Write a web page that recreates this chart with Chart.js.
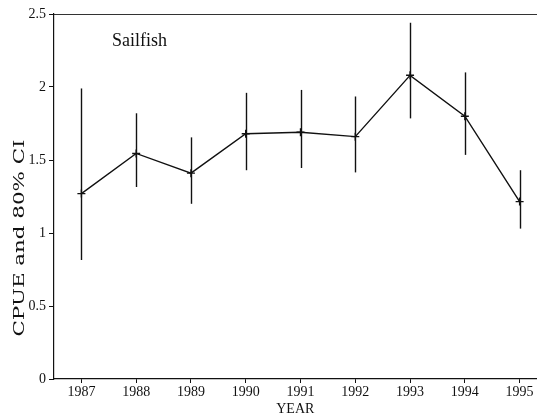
<!DOCTYPE html>
<html>
<head>
<meta charset="utf-8">
<script src="https://cdn.jsdelivr.net/npm/chart.js@4/dist/chart.umd.min.js"></script>
<style>
  html, body { margin: 0; padding: 0; background: #fff; }
  #wrap { width: 542px; height: 418px; }
</style>
</head>
<body>
<div id="wrap"><canvas id="cpueChart" width="542" height="418"></canvas></div>
<script>
/* data */
const years = [1987, 1988, 1989, 1990, 1991, 1992, 1993, 1994, 1995];
const cpue  = [1.27, 1.545, 1.41, 1.68, 1.69, 1.66, 2.08, 1.80, 1.215];
const ciLow  = [0.815, 1.315, 1.20, 1.43, 1.445, 1.415, 1.785, 1.535, 1.03];
const ciHigh = [1.99, 1.82, 1.655, 1.96, 1.98, 1.935, 2.44, 2.10, 1.43];
const yTicks = [0, 0.5, 1, 1.5, 2, 2.5];

const serif = "'Liberation Serif', 'Times New Roman', serif";

/* vertical CI bars, drawn through the scales */
const ciBars = {
  id: 'ciBars',
  afterDatasetsDraw(chart) {
    const { ctx, scales: { x, y } } = chart;
    ctx.save();
    ctx.strokeStyle = '#111';
    ctx.lineWidth = 1.4;
    years.forEach((yr, i) => {
      const px = Math.round(x.getPixelForValue(yr)) + 0.5;
      ctx.beginPath();
      ctx.moveTo(px, y.getPixelForValue(ciLow[i]));
      ctx.lineTo(px, y.getPixelForValue(ciHigh[i]));
      ctx.stroke();
    });
    ctx.restore();
  }
};

/* species label + y title */
const labels = {
  id: 'labels',
  afterDraw(chart) {
    const { ctx, chartArea } = chart;
    ctx.save();
    ctx.fillStyle = '#111';
    ctx.font = "18px " + serif;
    ctx.textBaseline = 'alphabetic';
    ctx.fillText('Sailfish', chartArea.left + 58, 46);

    ctx.translate(20, 238);
    ctx.rotate(-Math.PI / 2);
    ctx.font = "15px 'DejaVu Serif', serif";
    ctx.textAlign = 'center';
    ctx.textBaseline = 'middle';
    const t = 'CPUE and 80% CI';
    const w = ctx.measureText(t).width;
    ctx.scale(197 / w, 1);
    ctx.fillText(t, 0, 0);
    ctx.restore();
  }
};

new Chart(document.getElementById('cpueChart'), {
  type: 'line',
  data: {
    datasets: [{
      data: years.map((yr, i) => ({ x: yr, y: cpue[i] })),
      borderColor: '#111',
      borderWidth: 1.4,
      pointStyle: 'cross',
      pointRadius: 4,
      pointBorderColor: '#111',
      pointBorderWidth: 1.4,
      tension: 0,
      fill: false
    }]
  },
  options: {
    responsive: false,
    animation: false,
    layout: { padding: { top: 14, right: 0, left: 0, bottom: 0 } },
    plugins: { legend: { display: false }, tooltip: { enabled: false } },
    scales: {
      x: {
        type: 'linear',
        min: 1986.5,
        max: 1995.31,
        afterBuildTicks(scale) { scale.ticks = years.map(v => ({ value: v })); },
        afterFit(scale) { scale.height = 39; scale.paddingRight = 0; },
        grid: { display: true, drawOnChartArea: false, tickLength: 4, color: '#111' },
        border: { display: true, color: '#111', width: 1.2 },
        ticks: { color: '#111', font: { family: serif, size: 14 }, padding: 1, maxRotation: 0,
                 callback: v => String(v) },
        title: { display: true, text: 'YEAR', color: '#111', font: { family: serif, size: 14 }, padding: { top: -2, bottom: 0 } }
      },
      x2: {
        type: 'linear',
        position: 'top',
        min: 1986.5,
        max: 1995.31,
        afterFit(scale) { scale.height = 0; },
        grid: { display: false },
        border: { display: true, color: '#333', width: 1 },
        ticks: { display: false }
      },
      y: {
        min: 0,
        max: 2.5,
        afterBuildTicks(scale) { scale.ticks = yTicks.map(v => ({ value: v })); },
        afterFit(scale) { scale.width = 54; },
        grid: { display: true, drawOnChartArea: false, tickLength: 5, color: '#111' },
        border: { display: true, color: '#111', width: 1.2 },
        ticks: { color: '#111', font: { family: serif, size: 14 }, padding: 3,
                 callback: v => String(v) }
      }
    }
  },
  plugins: [ciBars, labels]
});
</script>
</body>
</html>
